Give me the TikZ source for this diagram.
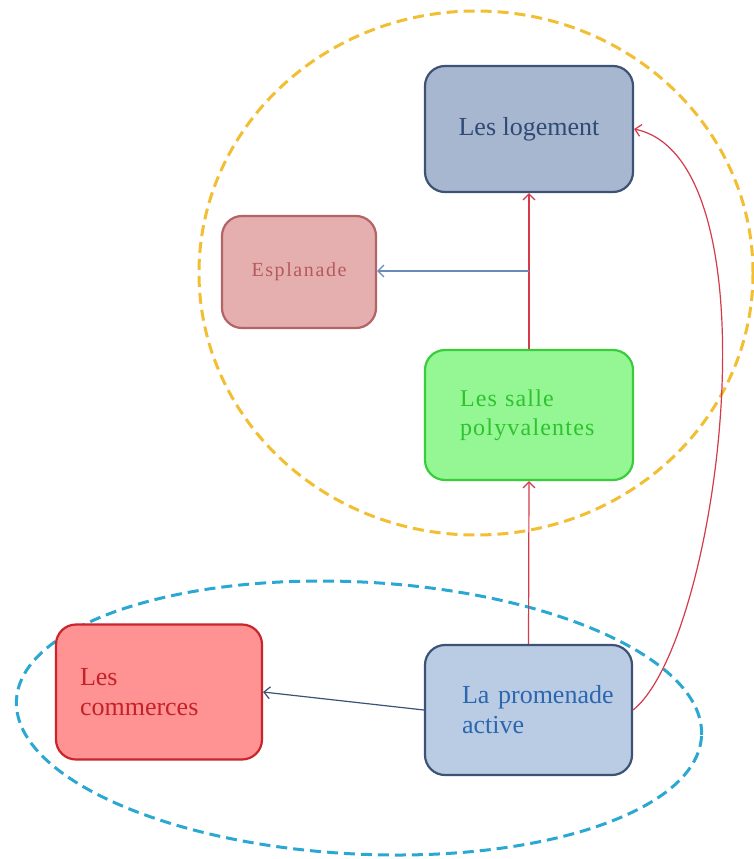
\documentclass[tikz,border=0pt]{standalone}
\usepackage{fontspec}
\setmainfont{Liberation Serif}
\usetikzlibrary{arrows.meta,calc}

\definecolor{slateFill}{HTML}{A7B7CF}
\definecolor{slateLine}{HTML}{3D5274}
\definecolor{slateText}{HTML}{2F4A75}
\definecolor{roseFill}{HTML}{E6AFAF}
\definecolor{roseLine}{HTML}{B36464}
\definecolor{roseText}{HTML}{B45A5A}
\definecolor{greenFill}{HTML}{94F794}
\definecolor{greenLine}{HTML}{3ACD3A}
\definecolor{greenText}{HTML}{2FC22F}
\definecolor{redFill}{HTML}{FF9292}
\definecolor{redLine}{HTML}{C8262B}
\definecolor{redText}{HTML}{C42229}
\definecolor{paleFill}{HTML}{B9CCE4}
\definecolor{paleText}{HTML}{2C66AE}
\definecolor{linkRed}{HTML}{D43A4A}
\definecolor{linkBlue}{HTML}{6A8BB8}
\definecolor{linkDark}{HTML}{3C5275}
\definecolor{gold}{HTML}{F2BF32}
\definecolor{sky}{HTML}{2BA8D2}

\tikzset{
  box/.style={draw, rounded corners=20pt, line width=2.2pt, inner sep=0pt},
  nobreak/.style={execute at begin node={\hyphenpenalty=10000\exhyphenpenalty=10000\hbadness=10000\hfuzz=100pt}},
  link/.style={line width=1.2pt, -{Straight Barb[length=6pt,width=12pt,line width=1.2pt]}},
  zone/.style={dashed, line width=3pt, dash pattern=on 11pt off 6pt}
}

\begin{document}
\begin{tikzpicture}[x=1pt,y=-1pt]
\useasboundingbox[fill=white] (0,0) rectangle (753,859);

% dashed zones
\draw[zone, gold] (476,273) ellipse [x radius=277, y radius=262];
\draw[zone, sky, rotate around={-3:(359,718)}] (359,718) ellipse [x radius=343, y radius=136];

% boxes
\node[box, fill=slateFill, draw=slateLine, minimum width=208pt, minimum height=126pt,
      text=slateText, font=\fontsize{26}{31}\selectfont] (logement) at (529,129) {Les logement};

\node[box, fill=roseFill, draw=roseLine, minimum width=154pt, minimum height=112pt,
      text=roseText, font=\fontsize{20}{24}\selectfont\addfontfeatures{LetterSpace=8}] (esplanade) at (299,272) {Esplanade};

\node[box, nobreak, fill=greenFill, draw=greenLine, minimum width=208pt, minimum height=130pt,
      text=greenText, align=left, text width=138pt, inner xsep=35pt,
      font=\fontsize{24}{29}\selectfont\addfontfeatures{LetterSpace=5}] (salle) at (529,415) {Les salle\\polyvalentes};

\node[box, nobreak, fill=redFill, draw=redLine, minimum width=206pt, minimum height=135pt,
      text=redText, align=left, text width=158pt, inner xsep=24pt,
      font=\fontsize{26}{30}\selectfont] (commerces) at (159,692) {Les\\commerces};

\node[box, nobreak, fill=paleFill, draw=slateLine, minimum width=207pt, minimum height=130pt,
      text=paleText, align=left, text width=133pt, inner xsep=37pt,
      font=\fontsize{26}{30}\selectfont] (promenade) at (528.5,710) {La~promenade\\active};

% connectors
\draw[link, linkRed] (salle.north) -- (logement.south);
\coordinate (branch) at ($(salle.north)!0.5!(logement.south)$);
\draw[link, linkBlue] (branch) -- (branch -| esplanade.east);
\draw[link, linkRed] (promenade.north) -- (salle.south);
\draw[link, linkDark] (promenade.west) -- (commerces.east);
\draw[link, linkRed] (promenade.east) .. controls (720,640) and (780,160) .. (logement.east);
\end{tikzpicture}
\end{document}
